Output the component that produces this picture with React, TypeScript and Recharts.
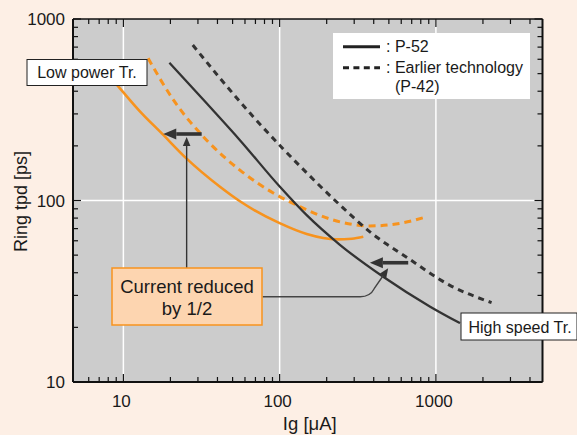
import React from "react";
import {
  LineChart,
  Line,
  XAxis,
  YAxis,
  CartesianGrid,
  ReferenceLine,
} from "recharts";

type Pt = { x: number; y: number };

// Ig [uA] ticks (log axis, minor + major)
const X_TICKS = [
  6, 7, 8, 9, 10, 20, 30, 40, 50, 60, 70, 80, 90, 100, 200, 300, 400, 500, 600,
  700, 800, 900, 1000, 2000, 3000, 4000,
];
// Ring tpd [ps] ticks
const Y_TICKS = [
  10, 20, 30, 40, 50, 60, 70, 80, 90, 100, 200, 300, 400, 500, 600, 700, 800,
  900, 1000,
];
const MAJOR = [10, 100, 1000];

// Low power Tr., P-52 (solid orange)
const LOW_POWER_P52: Pt[] = [
  { x: 8.6, y: 458 },
  { x: 9.3, y: 424 },
  { x: 12.8, y: 309 },
  { x: 17.8, y: 232 },
  { x: 25.4, y: 170 },
  { x: 41.5, y: 119 },
  { x: 55.7, y: 99 },
  { x: 100, y: 75 },
  { x: 149, y: 65.4 },
  { x: 231, y: 61.1 },
  { x: 290, y: 61.6 },
  { x: 343, y: 63.2 },
];

// Low power Tr., earlier technology P-42 (dashed orange)
const LOW_POWER_P42: Pt[] = [
  { x: 14.4, y: 607 },
  { x: 20.9, y: 358 },
  { x: 34.1, y: 215 },
  { x: 55.7, y: 147 },
  { x: 91, y: 110 },
  { x: 135, y: 92.4 },
  { x: 220, y: 78.1 },
  { x: 378, y: 72.4 },
  { x: 588, y: 74.8 },
  { x: 872, y: 81.4 },
];

// High speed Tr., P-52 (solid dark)
const HIGH_SPEED_P52: Pt[] = [
  { x: 19.7, y: 574 },
  { x: 34.1, y: 343 },
  { x: 55.7, y: 215 },
  { x: 100.4, y: 119 },
  { x: 149, y: 83 },
  { x: 243, y: 57 },
  { x: 460, y: 38 },
  { x: 919, y: 26 },
  { x: 1424, y: 21.1 },
];

// High speed Tr., earlier technology P-42 (dashed dark)
const HIGH_SPEED_P42: Pt[] = [
  { x: 27.8, y: 719 },
  { x: 41.5, y: 472 },
  { x: 64.6, y: 303 },
  { x: 105, y: 193 },
  { x: 149, y: 142 },
  { x: 243, y: 94.5 },
  { x: 397, y: 65 },
  { x: 649, y: 48.7 },
  { x: 1229, y: 34.1 },
  { x: 2271, y: 27.4 },
];

const ORANGE = "#f7931e";
const DARK = "#333333";
const INK = "#1a1a1a";
const FONT = '"Liberation Sans", Arial, Helvetica, sans-serif';

function BottomTick({ x, y, payload }: any) {
  const major = MAJOR.includes(payload.value);
  return (
    <g>
      <line x1={x} x2={x} y1={y} y2={y - (major ? 8 : 5)} stroke="#111" strokeWidth={1.2} />
      {major && (
        <text x={x - 2} y={y + 25} textAnchor="middle" fontSize={17} fill={INK} fontFamily={FONT}>
          {payload.value}
        </text>
      )}
    </g>
  );
}

function TopTick({ x, y, payload }: any) {
  const major = MAJOR.includes(payload.value);
  return <line x1={x} x2={x} y1={y} y2={y + (major ? 8 : 5)} stroke="#111" strokeWidth={1.2} />;
}

function LeftTick({ x, y, payload }: any) {
  const major = MAJOR.includes(payload.value);
  return (
    <g>
      <line x1={x} x2={x + (major ? 8 : 5)} y1={y} y2={y} stroke="#111" strokeWidth={1.2} />
      {major && (
        <text x={x - 8} y={y + 6} textAnchor="end" fontSize={17} fill={INK} fontFamily={FONT}>
          {payload.value}
        </text>
      )}
    </g>
  );
}

function RightTick({ x, y, payload }: any) {
  const major = MAJOR.includes(payload.value);
  return <line x1={x} x2={x - (major ? 8 : 5)} y1={y} y2={y} stroke="#111" strokeWidth={1.2} />;
}

const xTitle = (props: any) => {
  const vb = props.viewBox;
  return (
    <text x={vb.x + vb.width / 2 + 2} y={vb.y + 48} textAnchor="middle" fontSize={18.5} fill={INK} fontFamily={FONT}>
      Ig [μA]
    </text>
  );
};

const yTitle = (props: any) => {
  const vb = props.viewBox;
  const cy = vb.y + vb.height / 2 + 1;
  return (
    <text x={27} y={cy} transform={`rotate(-90 27 ${cy})`} textAnchor="middle" fontSize={18} fill={INK} fontFamily={FONT}>
      Ring tpd [ps]
    </text>
  );
};

function arrowShape(width: number, headLen: number, headHalf: number) {
  return (p: any) => {
    const { x1, y1, x2, y2 } = p;
    const dx = x2 - x1;
    const dy = y2 - y1;
    const len = Math.hypot(dx, dy) || 1;
    const ux = dx / len;
    const uy = dy / len;
    const bx = x2 - ux * headLen;
    const by = y2 - uy * headLen;
    const px = -uy * headHalf;
    const py = ux * headHalf;
    return (
      <g>
        <line x1={x1} y1={y1} x2={bx} y2={by} stroke={DARK} strokeWidth={width} />
        <polygon points={`${x2},${y2} ${bx + px},${by + py} ${bx - px},${by - py}`} fill={DARK} />
      </g>
    );
  };
}

const connectorShape = (p: any) => {
  const { x1, y1, x2, y2 } = p;
  const cx = x2 - 20;
  const sx = cx + 6;
  const sy = y1 - 8;
  const dx = x2 - sx;
  const dy = y2 - sy;
  const len = Math.hypot(dx, dy) || 1;
  const ux = dx / len;
  const uy = dy / len;
  const bx = x2 - ux * 9;
  const by = y2 - uy * 9;
  const px = -uy * 3.8;
  const py = ux * 3.8;
  return (
    <g>
      <path
        d={`M${x1},${y1} L${cx - 8},${y1} Q${cx + 2},${y1} ${sx},${sy} L${bx},${by}`}
        fill="none"
        stroke="#444"
        strokeWidth={1.4}
      />
      <polygon points={`${x2},${y2} ${bx + px},${by + py} ${bx - px},${by - py}`} fill={DARK} />
    </g>
  );
};

export default function App() {
  return (
    <div style={{ position: "absolute", left: 0, top: 0, width: 577, height: 435, background: "#fdefe5", fontFamily: FONT }}>
      <LineChart width={577} height={435} margin={{ top: 18, right: 33.5, bottom: 52, left: 72 }}>
        <CartesianGrid horizontal={false} vertical={false} fill="#cccccc" stroke="none" />
        <ReferenceLine x={10} stroke="#ffffff" strokeWidth={1.5} />
        <ReferenceLine x={100} stroke="#ffffff" strokeWidth={1.5} />
        <ReferenceLine x={1000} stroke="#ffffff" strokeWidth={1.5} />
        <ReferenceLine y={100} stroke="#ffffff" strokeWidth={1.5} />
        <XAxis
          dataKey="x"
          type="number"
          scale="log"
          domain={[4.76, 4810]}
          allowDataOverflow
          ticks={X_TICKS}
          interval={0}
          height={1}
          tickSize={0}
          tickMargin={0}
          tickLine={false}
          tick={BottomTick}
          axisLine={{ stroke: "#111", strokeWidth: 2 }}
          label={xTitle}
        />
        <XAxis
          xAxisId="top"
          orientation="top"
          dataKey="x"
          type="number"
          scale="log"
          domain={[4.76, 4810]}
          allowDataOverflow
          ticks={X_TICKS}
          interval={0}
          height={1}
          tickSize={0}
          tickMargin={0}
          tickLine={false}
          tick={TopTick}
          axisLine={{ stroke: "#111", strokeWidth: 1.5 }}
        />
        <YAxis
          type="number"
          scale="log"
          domain={[10, 1000]}
          allowDataOverflow
          ticks={Y_TICKS}
          interval={0}
          width={1}
          tickSize={0}
          tickMargin={0}
          tickLine={false}
          tick={LeftTick}
          axisLine={{ stroke: "#111", strokeWidth: 2 }}
          label={yTitle}
        />
        <YAxis
          yAxisId="right"
          orientation="right"
          type="number"
          scale="log"
          domain={[10, 1000]}
          allowDataOverflow
          ticks={Y_TICKS}
          interval={0}
          width={1}
          tickSize={0}
          tickMargin={0}
          tickLine={false}
          tick={RightTick}
          axisLine={{ stroke: "#111", strokeWidth: 2 }}
        />
        <Line data={LOW_POWER_P52} dataKey="y" type="monotone" stroke={ORANGE} strokeWidth={2.6} dot={false} activeDot={false} isAnimationActive={false} />
        <Line data={LOW_POWER_P42} dataKey="y" type="monotone" stroke={ORANGE} strokeWidth={3} strokeDasharray="7 5" dot={false} activeDot={false} isAnimationActive={false} />
        <Line data={HIGH_SPEED_P52} dataKey="y" type="monotone" stroke={DARK} strokeWidth={2.3} dot={false} activeDot={false} isAnimationActive={false} />
        <Line data={HIGH_SPEED_P42} dataKey="y" type="monotone" stroke={DARK} strokeWidth={3} strokeDasharray="6 5" dot={false} activeDot={false} isAnimationActive={false} />

        <ReferenceLine segment={[{ x: 25.4, y: 42.3 }, { x: 25.4, y: 224 }]} shape={arrowShape(1.4, 9, 3.8)} />
        <ReferenceLine segment={[{ x: 31.7, y: 232.5 }, { x: 18, y: 232.5 }]} shape={arrowShape(3.6, 13, 5.5)} />
        <ReferenceLine segment={[{ x: 665, y: 45.4 }, { x: 378, y: 45.4 }]} shape={arrowShape(3.6, 13, 5.5)} />
        <ReferenceLine segment={[{ x: 77.8, y: 29.5 }, { x: 495, y: 42.3 }]} shape={connectorShape} />
      </LineChart>

      {/* annotation boxes sit above the axis frame */}
      <svg width={577} height={435} style={{ position: "absolute", left: 0, top: 0, pointerEvents: "none" }}>
        <rect x={27} y={59.5} width={120} height={26} fill="#ffffff" stroke="#222" strokeWidth={1} />
        <text x={87} y={78} textAnchor="middle" fontSize={16} fill={INK} fontFamily={FONT}>Low power Tr.</text>
        <rect x={461} y={313} width={116} height={27} fill="#ffffff" stroke="#222" strokeWidth={1} />
        <text x={520} y={332.5} textAnchor="middle" fontSize={16} fill={INK} fontFamily={FONT}>High speed Tr.</text>
        <rect x={112} y={268} width={150} height={57} fill="#fdd5b0" stroke={ORANGE} strokeWidth={1.5} />
        <text x={187} y={293} textAnchor="middle" fontSize={18.5} fill={INK} fontFamily={FONT}>Current reduced</text>
        <text x={187} y={315} textAnchor="middle" fontSize={18.5} fill={INK} fontFamily={FONT}>by 1/2</text>
      </svg>

      <div style={{ position: "absolute", left: 333, top: 33, width: 197, height: 66, background: "#ffffff" }}>
        <svg width={197} height={66} style={{ position: "absolute", left: 0, top: 0 }}>
          <line x1={10} x2={47} y1={13.7} y2={13.7} stroke="#222" strokeWidth={3} />
          <line x1={10} x2={47} y1={34.7} y2={34.7} stroke="#222" strokeWidth={3} strokeDasharray="6 4.4" />
          <text x={53} y={19} fontSize={16} fill={INK} fontFamily={FONT}>: P-52</text>
          <text x={53} y={39.5} fontSize={16} fill={INK} fontFamily={FONT}>: Earlier technology</text>
          <text x={62} y={58.5} fontSize={16} fill={INK} fontFamily={FONT}>(P-42)</text>
        </svg>
      </div>
    </div>
  );
}
